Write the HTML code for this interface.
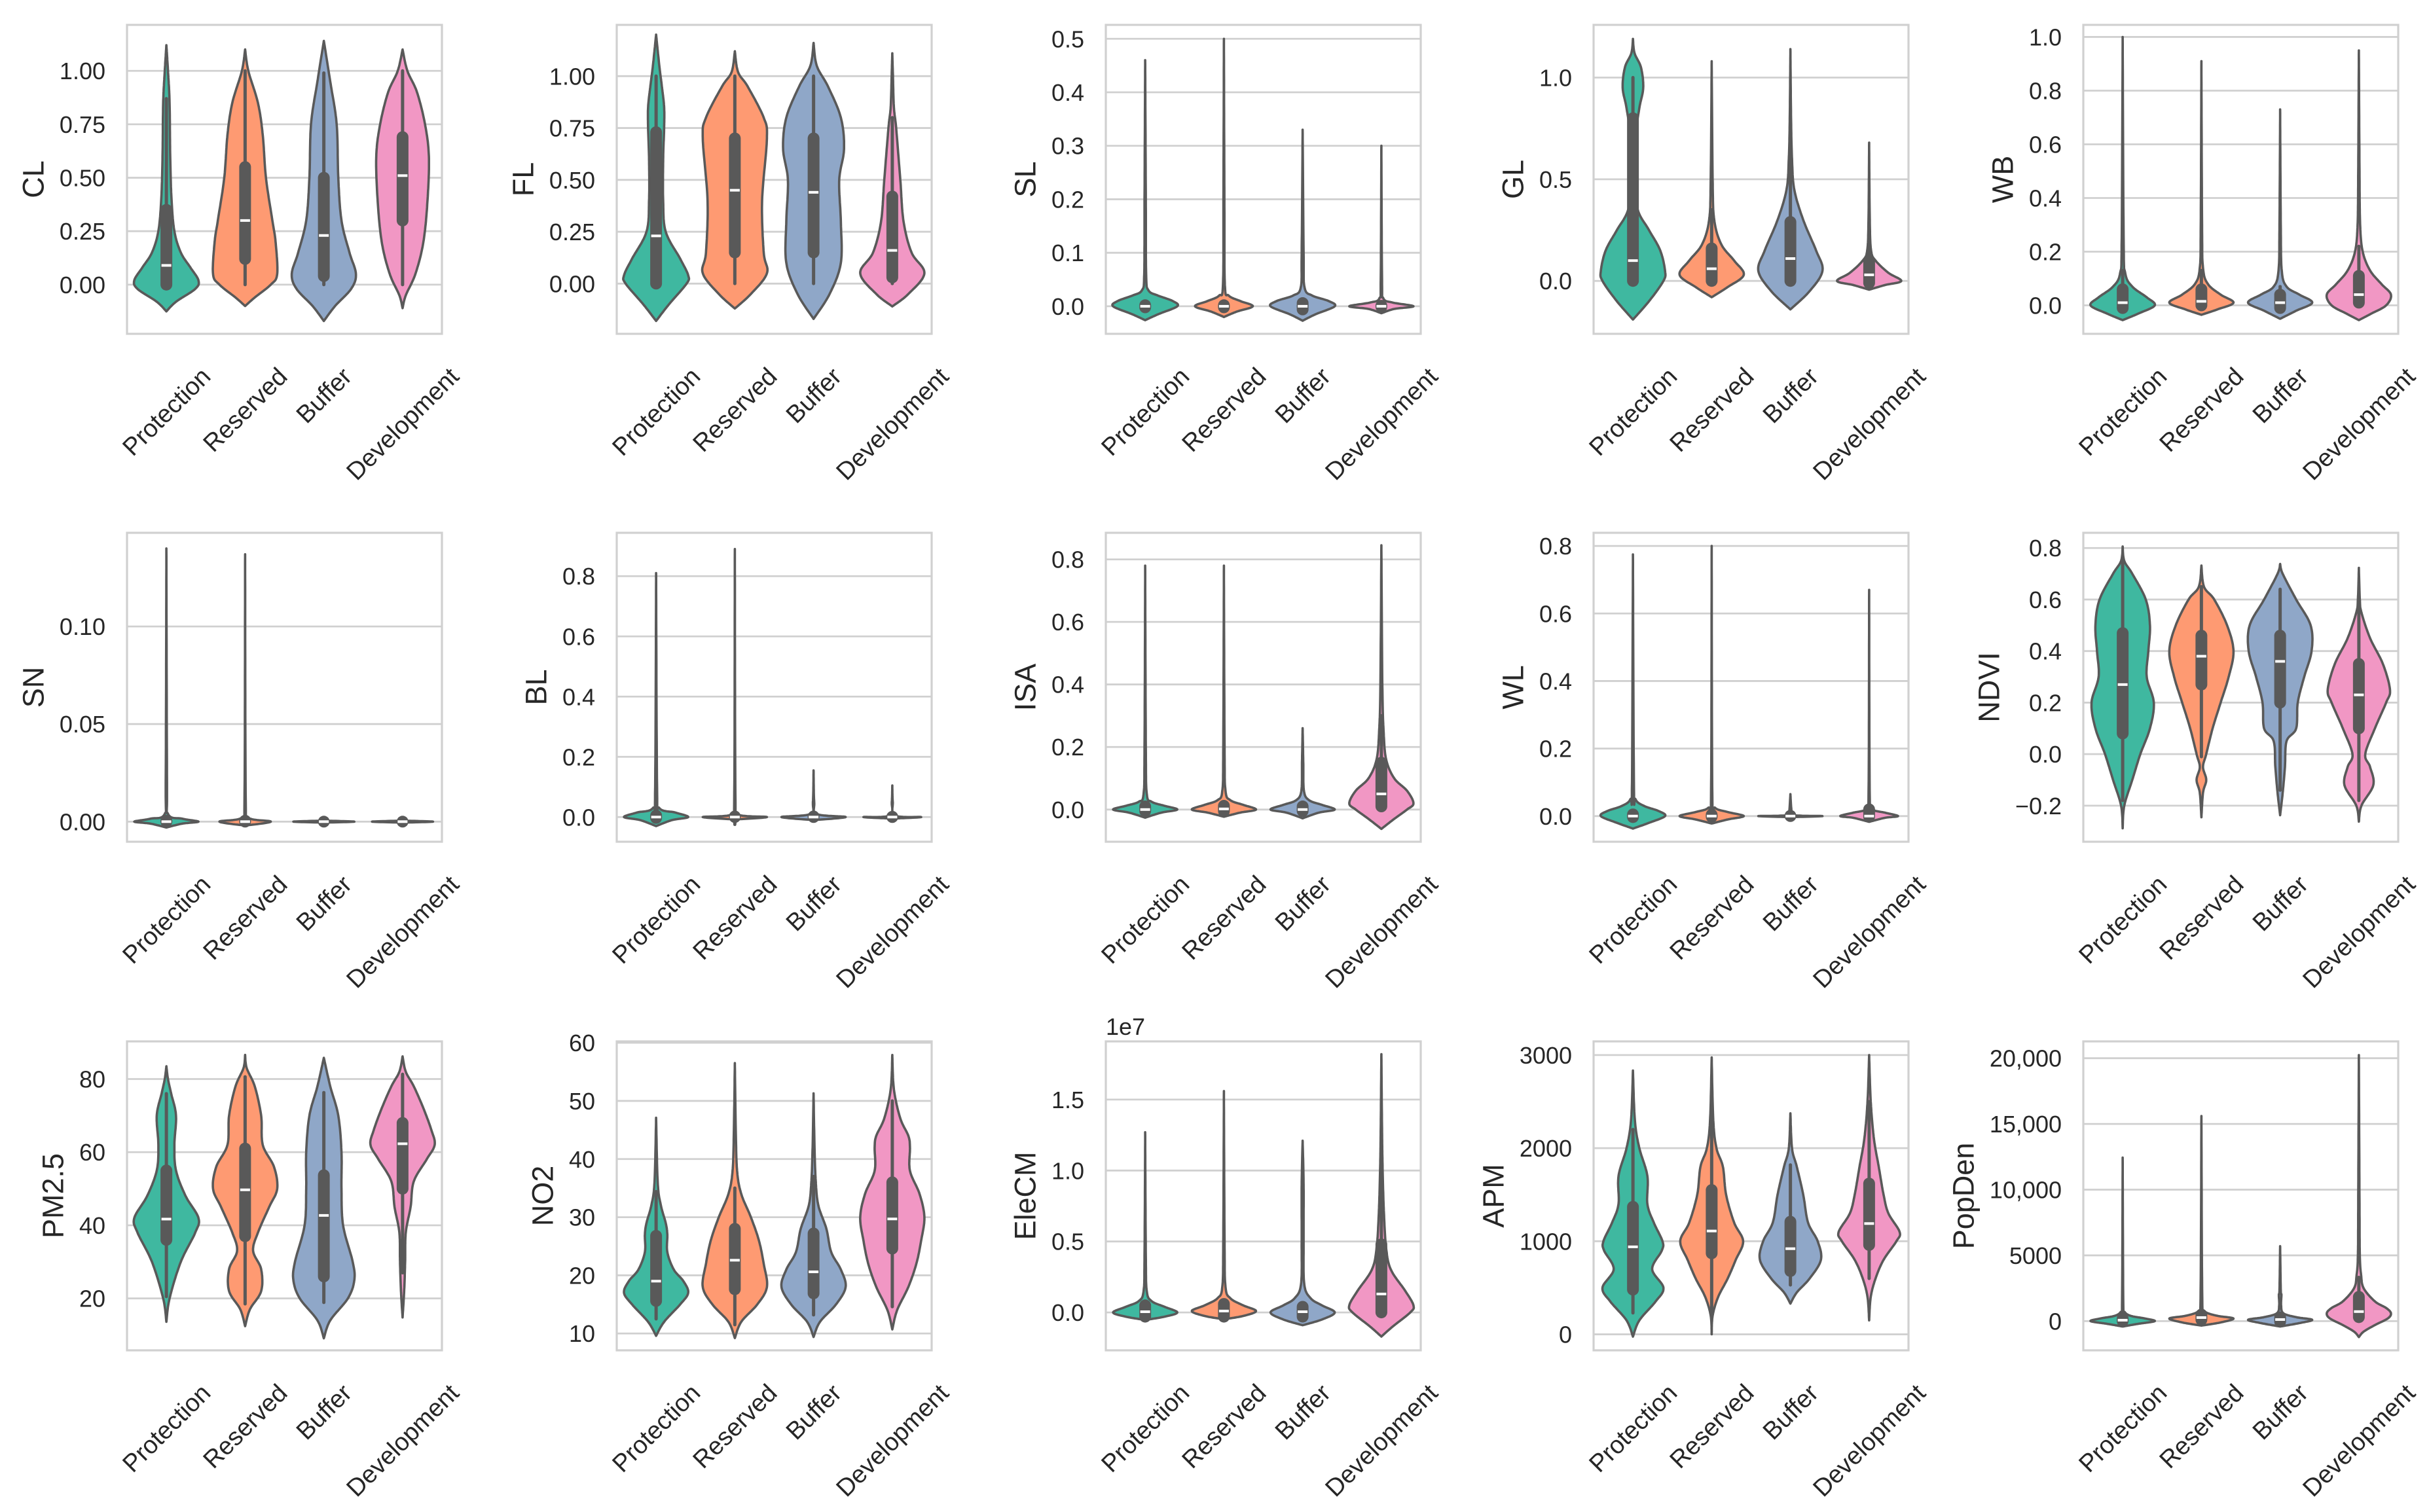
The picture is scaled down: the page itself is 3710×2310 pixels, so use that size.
<!DOCTYPE html>
<html><head><meta charset="utf-8"><title>Violin plots by zone</title>
<style>
html,body{margin:0;padding:0;background:#fff;}
svg{display:block;font-family:"Liberation Sans",Arial,sans-serif;}
</style></head>
<body>
<svg id="fig" xmlns="http://www.w3.org/2000/svg" width="3710" height="2310" viewBox="0 0 3710 2310">
<rect x="0" y="0" width="3710" height="2310" fill="#fff"/>
</svg>
<script>
const categories=["Protection","Reserved","Buffer","Development"];
const panelNames=["CL","FL","SL","GL","WB","SN","BL","ISA","WL","NDVI","PM2.5","NO2","EleCM","APM","PopDen"];
const yLimits=[[-0.23,1.215],[-0.242,1.247],[-0.0515,0.526],[-0.26,1.259],[-0.106,1.045],
[-0.0103,0.148],[-0.082,0.944],[-0.103,0.885],[-0.076,0.839],[-0.34,0.859],
[5.8,90.3],[7.1,60.24],[-0.267,1.91],[-172,3147],[-2222,21280]];
const yTicks=[[0,0.25,0.5,0.75,1],[0,0.25,0.5,0.75,1],[0,0.1,0.2,0.3,0.4,0.5],[0,0.5,1],[0,0.2,0.4,0.6,0.8,1],
[0,0.05,0.1],[0,0.2,0.4,0.6,0.8],[0,0.2,0.4,0.6,0.8],[0,0.2,0.4,0.6,0.8],[-0.2,0,0.2,0.4,0.6,0.8],
[20,40,60,80],[10,20,30,40,50,60],[0,0.5,1,1.5],[0,1000,2000,3000],[0,5000,10000,15000,20000]];
const tickLabels=[["0.00","0.25","0.50","0.75","1.00"],["0.00","0.25","0.50","0.75","1.00"],["0.0","0.1","0.2","0.3","0.4","0.5"],["0.0","0.5","1.0"],["0.0","0.2","0.4","0.6","0.8","1.0"],
["0.00","0.05","0.10"],["0.0","0.2","0.4","0.6","0.8"],["0.0","0.2","0.4","0.6","0.8"],["0.0","0.2","0.4","0.6","0.8"],["\u22120.2","0.0","0.2","0.4","0.6","0.8"],
["20","40","60","80"],["10","20","30","40","50","60"],["0.0","0.5","1.0","1.5"],["0","1000","2000","3000"],["0","5000","10,000","15,000","20,000"]];
const offsetTexts=["","","","","","","","","","","","","1e7","",""];
// density outlines: [value, relative half-width]
const violinKnots=[
[[[-0.125,0],[-0.08,0.3],[-0.02,0.9],[0.02,1],[0.08,0.75],[0.15,0.45],[0.25,0.25],[0.4,0.16],[0.6,0.12],[0.85,0.1],[1.0,0.05],[1.12,0]],
 [[-0.1,0],[-0.06,0.3],[0,0.8],[0.05,1],[0.2,0.95],[0.3,0.85],[0.5,0.65],[0.7,0.55],[0.85,0.4],[1.0,0.1],[1.1,0]],
 [[-0.17,0],[-0.1,0.35],[-0.02,0.85],[0.05,1],[0.15,0.8],[0.3,0.55],[0.5,0.45],[0.75,0.4],[0.95,0.2],[1.14,0]],
 [[-0.11,0],[-0.05,0.1],[0.05,0.4],[0.2,0.65],[0.4,0.78],[0.6,0.82],[0.75,0.7],[0.9,0.45],[1.0,0.15],[1.1,0]]],
[[[-0.18,0],[-0.1,0.4],[0,0.95],[0.04,1],[0.12,0.75],[0.25,0.3],[0.4,0.22],[0.6,0.22],[0.75,0.25],[0.85,0.25],[0.95,0.18],[1.05,0.1],[1.2,0]],
 [[-0.12,0],[-0.05,0.5],[0.05,1],[0.15,0.9],[0.4,0.85],[0.7,1],[0.8,0.9],[0.95,0.4],[1.02,0.1],[1.12,0]],
 [[-0.17,0],[-0.05,0.5],[0.1,0.85],[0.3,0.85],[0.5,0.8],[0.65,0.95],[0.8,0.85],[0.95,0.45],[1.05,0.1],[1.16,0]],
 [[-0.11,0],[-0.05,0.5],[0.05,1],[0.15,0.6],[0.3,0.35],[0.5,0.25],[0.75,0.12],[0.85,0.05],[1.0,0.02],[1.11,0]]],
[[[-0.026,0],[-0.015,0.4],[0,1],[0.01,0.85],[0.02,0.4],[0.03,0.1],[0.06,0.03],[0.2,0.02],[0.46,0]],
 [[-0.02,0],[-0.01,0.4],[0,0.9],[0.01,0.5],[0.02,0.15],[0.04,0.03],[0.2,0.015],[0.5,0]],
 [[-0.027,0],[-0.015,0.4],[0,1],[0.01,0.8],[0.02,0.3],[0.035,0.06],[0.1,0.03],[0.33,0]],
 [[-0.013,0],[-0.005,0.4],[0,1],[0.007,0.35],[0.015,0.06],[0.05,0.02],[0.3,0]]],
[[[-0.19,0],[-0.1,0.5],[0,0.95],[0.05,1],[0.15,0.85],[0.25,0.5],[0.35,0.15],[0.5,0.05],[0.7,0.07],[0.85,0.2],[0.95,0.32],[1.05,0.25],[1.12,0.05],[1.19,0]],
 [[-0.08,0],[-0.03,0.5],[0.03,1],[0.1,0.7],[0.18,0.3],[0.3,0.08],[0.5,0.03],[1.08,0]],
 [[-0.14,0],[-0.05,0.6],[0.05,1],[0.15,0.8],[0.3,0.4],[0.45,0.12],[0.6,0.05],[0.8,0.02],[1.14,0]],
 [[-0.043,0],[-0.02,0.5],[0,1],[0.04,0.6],[0.1,0.2],[0.15,0.06],[0.3,0.02],[0.68,0]]],
[[[-0.055,0],[-0.03,0.5],[0,1],[0.03,0.75],[0.07,0.3],[0.12,0.08],[0.25,0.03],[1.0,0]],
 [[-0.035,0],[-0.015,0.5],[0.01,1],[0.04,0.6],[0.08,0.2],[0.14,0.05],[0.3,0.02],[0.91,0]],
 [[-0.05,0],[-0.02,0.5],[0.01,1],[0.04,0.6],[0.07,0.2],[0.13,0.05],[0.3,0.02],[0.73,0]],
 [[-0.055,0],[-0.03,0.4],[0,0.85],[0.04,1],[0.08,0.7],[0.13,0.35],[0.2,0.12],[0.3,0.04],[0.5,0.02],[0.95,0]]],
[[[-0.003,0],[-0.001,0.5],[0,1],[0.0015,0.5],[0.004,0.05],[0.02,0.02],[0.14,0]],
 [[-0.002,0],[0,0.8],[0.002,0.1],[0.01,0.02],[0.137,0]],
 [[-0.0005,0],[0,0.95],[0.0005,0]],
 [[-0.0005,0],[0,0.95],[0.0005,0]]],
[[[-0.03,0],[-0.01,0.5],[0,1],[0.015,0.6],[0.03,0.1],[0.1,0.03],[0.81,0]],
 [[-0.008,0],[0,1],[0.008,0.1],[0.05,0.02],[0.89,0]],
 [[-0.01,0],[0,1],[0.01,0.1],[0.05,0.02],[0.155,0]],
 [[-0.005,0],[0,0.9],[0.005,0.08],[0.05,0.015],[0.105,0]]],
[[[-0.026,0],[-0.01,0.5],[0,1],[0.012,0.6],[0.025,0.2],[0.05,0.05],[0.2,0.02],[0.78,0]],
 [[-0.023,0],[-0.01,0.5],[0,1],[0.015,0.6],[0.03,0.2],[0.06,0.05],[0.2,0.02],[0.78,0]],
 [[-0.028,0],[-0.01,0.5],[0,1],[0.015,0.6],[0.03,0.2],[0.06,0.04],[0.15,0.02],[0.26,0]],
 [[-0.062,0],[-0.03,0.4],[0,0.8],[0.02,1],[0.06,0.8],[0.1,0.4],[0.16,0.15],[0.25,0.07],[0.4,0.03],[0.845,0]]],
[[[-0.037,0],[-0.02,0.5],[0,1],[0.015,0.8],[0.03,0.35],[0.05,0.08],[0.1,0.03],[0.775,0]],
 [[-0.022,0],[-0.01,0.5],[0,1],[0.012,0.5],[0.025,0.1],[0.06,0.02],[0.8,0]],
 [[-0.003,0],[0,1],[0.003,0.08],[0.02,0.03],[0.065,0]],
 [[-0.017,0],[-0.005,0.5],[0,0.9],[0.01,0.5],[0.02,0.1],[0.05,0.02],[0.67,0]]],
[[[-0.288,0],[-0.2,0.05],[-0.1,0.3],[0,0.55],[0.1,0.85],[0.2,0.97],[0.3,0.75],[0.4,0.8],[0.5,0.85],[0.6,0.72],[0.7,0.3],[0.75,0.05],[0.806,0]],
 [[-0.245,0],[-0.15,0.05],[-0.1,0.15],[-0.05,0.05],[0,0.15],[0.1,0.35],[0.2,0.6],[0.3,0.85],[0.4,1],[0.5,0.8],[0.6,0.4],[0.65,0.08],[0.732,0]],
 [[-0.237,0],[-0.15,0.08],[-0.05,0.15],[0.05,0.2],[0.1,0.5],[0.2,0.55],[0.3,0.75],[0.4,0.98],[0.5,0.95],[0.6,0.5],[0.7,0.08],[0.738,0]],
 [[-0.262,0],[-0.2,0.08],[-0.12,0.45],[-0.05,0.35],[0,0.2],[0.1,0.5],[0.2,0.85],[0.25,0.97],[0.35,0.75],[0.45,0.35],[0.55,0.08],[0.6,0.03],[0.723,0]]],
[[[13.6,0],[20,0.1],[30,0.45],[38,0.9],[42,1],[48,0.6],[55,0.3],[62,0.25],[70,0.3],[76,0.15],[80,0.05],[83.5,0]],
 [[12.4,0],[17,0.15],[22,0.5],[28,0.5],[33,0.25],[38,0.4],[45,0.75],[50,1],[56,0.9],[62,0.55],[70,0.5],[78,0.3],[83,0.05],[86.6,0]],
 [[9.1,0],[14,0.2],[20,0.75],[25,0.95],[30,0.9],[40,0.6],[50,0.55],[60,0.55],[70,0.45],[78,0.2],[85.8,0]],
 [[14.8,0],[22,0.05],[30,0.08],[38,0.1],[45,0.25],[52,0.35],[58,0.75],[62,1],[66,0.9],[72,0.65],[78,0.35],[82,0.1],[86.2,0]]],
[[[9.6,0],[12,0.25],[15,0.75],[17,1],[19,0.85],[21,0.55],[24,0.35],[27,0.35],[29,0.3],[32,0.15],[36,0.05],[47.1,0]],
 [[9.2,0],[12,0.2],[15,0.7],[18,1],[22,0.9],[26,0.75],[30,0.5],[34,0.2],[38,0.07],[45,0.03],[56.5,0]],
 [[9.4,0],[12,0.2],[15,0.7],[18,1],[21,0.85],[24,0.55],[28,0.4],[32,0.15],[36,0.07],[42,0.03],[51.3,0]],
 [[10.7,0],[14,0.15],[18,0.5],[22,0.75],[26,0.9],[30,1],[34,0.85],[38,0.55],[42,0.55],[44,0.5],[47,0.25],[52,0.05],[57.9,0]]],
[[[-0.053,0],[-0.03,0.6],[0,1],[0.04,0.6],[0.08,0.2],[0.15,0.05],[0.4,0.02],[1.27,0]],
 [[-0.048,0],[-0.025,0.6],[0.01,1],[0.05,0.6],[0.1,0.2],[0.18,0.05],[0.5,0.02],[1.56,0]],
 [[-0.09,0],[-0.05,0.6],[0,1],[0.05,0.6],[0.1,0.25],[0.2,0.05],[0.5,0.03],[0.9,0.03],[1.21,0]],
 [[-0.17,0],[-0.1,0.35],[0,0.9],[0.05,1],[0.15,0.75],[0.3,0.3],[0.45,0.15],[0.7,0.08],[1.0,0.04],[1.3,0.02],[1.82,0]]],
[[[-25,0],[150,0.2],[350,0.7],[500,0.95],[700,0.6],[900,0.9],[1000,0.92],[1200,0.65],[1400,0.45],[1700,0.45],[2000,0.2],[2300,0.06],[2834,0]],
 [[0,0],[200,0.03],[400,0.2],[600,0.5],[800,0.75],[1000,0.98],[1200,0.7],[1500,0.45],[1800,0.35],[2000,0.15],[2300,0.05],[2975,0]],
 [[330,0],[450,0.2],[600,0.6],[800,0.95],[1000,0.85],[1200,0.55],[1500,0.4],[1800,0.2],[2000,0.05],[2374,0]],
 [[150,0],[400,0.05],[600,0.2],[800,0.45],[1000,0.85],[1100,0.95],[1300,0.6],[1500,0.45],[1800,0.3],[2100,0.15],[2500,0.05],[3000,0]]],
[[[-410,0],[-200,0.5],[0,1],[200,0.7],[400,0.25],[700,0.06],[1200,0.02],[12440,0]],
 [[-340,0],[-100,0.6],[200,1],[400,0.5],[700,0.12],[1200,0.03],[15600,0]],
 [[-410,0],[-150,0.6],[100,1],[300,0.5],[600,0.1],[1200,0.03],[2000,0.04],[2400,0.02],[5700,0]],
 [[-1210,0],[-800,0.15],[-300,0.5],[200,0.9],[600,1],[1000,0.85],[1500,0.5],[2500,0.15],[3500,0.07],[5000,0.03],[9000,0.02],[20240,0]]]
];
// [whiskerLow, q1, median, q3, whiskerHigh]
const boxStats=[
[[0,0,0.09,0.35,0.87],[0,0.12,0.3,0.55,1.0],[0,0.04,0.23,0.5,0.99],[0,0.3,0.51,0.69,1.0]],
[[0,0,0.23,0.73,1.0],[0,0.15,0.45,0.7,1.0],[0,0.15,0.44,0.7,1.0],[0,0.03,0.16,0.42,0.8]],
[[0,-0.002,0,0.002,0.004],[0,-0.002,0,0.002,0.004],[-0.004,-0.006,0,0.006,0.008],[0,-0.001,0,0.001,0.002]],
[[0,0,0.1,0.8,1.0],[0,0,0.06,0.16,0.35],[0,0,0.11,0.29,0.65],[-0.01,-0.01,0.03,0.1,0.2]],
[[-0.01,-0.01,0.01,0.06,0.13],[0,0,0.015,0.06,0.13],[-0.01,-0.01,0.01,0.04,0.07],[0,0.01,0.04,0.11,0.22]],
[[0,0,0,0.0005,0.001],[0,0,0,0.0005,0.001],[0,0,0,0,0],[0,0,0,0,0]],
[[0,-0.003,0,0.005,0.01],[0,0,0,0.002,0.004],[0,0,0,0.002,0.004],[0,0,0,0.001,0.002]],
[[0,-0.005,0,0.01,0.02],[0,-0.005,0.002,0.012,0.025],[0,-0.005,0,0.01,0.02],[0,0.01,0.05,0.15,0.3]],
[[0,-0.003,0,0.005,0.01],[0,-0.002,0,0.004,0.008],[0,0,0,0.001,0.002],[0,-0.002,0,0.02,0.03]],
[[-0.18,0.08,0.27,0.47,0.75],[-0.01,0.27,0.38,0.46,0.65],[-0.14,0.2,0.36,0.46,0.64],[-0.18,0.1,0.23,0.35,0.6]],
[[20.5,36,41.7,55,76],[18.5,37,49.7,61,80.6],[18.9,26,42.7,53.7,76.3],[27,50,62.3,68,81.3]],
[[12.5,15.6,19,26.8,34.4],[11.5,17.6,22.6,28,35],[13.2,16.9,20.6,27.2,37],[14.6,24.6,29.7,36,50]],
[[-0.03,-0.03,0.005,0.05,0.06],[-0.03,-0.03,0.01,0.06,0.07],[-0.03,-0.03,0.005,0.04,0.05],[0,0,0.13,0.48,1.1]],
[[230,480,940,1370,2200],[180,870,1110,1550,2400],[530,680,920,1210,1820],[600,960,1190,1620,2500]],
[[-100,0,70,200,500],[0,100,270,500,1000],[-100,-40,120,280,500],[0,300,725,1850,3330]]
];
const violinColors=["#3fb8a0","#fe9a72","#8fa7c8","#f197c4"];

const NS="http://www.w3.org/2000/svg";
const svg=document.getElementById('fig');
const colLeft=[194,942,1689,2434,3182], rowTop=[38,814,1591], AW=481, AH=472, HALF=49;
function mk(tag,attrs,parent){const e=document.createElementNS(NS,tag);for(const k in attrs)e.setAttribute(k,attrs[k]);(parent||svg).appendChild(e);return e;}
function cr(p0,p1,p2,p3,t){const t2=t*t,t3=t2*t;return 0.5*((2*p1)+(-p0+p2)*t+(2*p0-5*p1+4*p2-p3)*t2+(-p0+3*p1-3*p2+p3)*t3);}

panelNames.forEach((name,pi)=>{
  const L=colLeft[pi%5], T=rowTop[Math.floor(pi/5)];
  const [ymin,ymax]=yLimits[pi];
  const ys=v=>T+(ymax-v)/(ymax-ymin)*AH;
  const xc=ci=>L+AW*(2*ci+1)/8;
  const g=mk('g',{});
  
  
  yTicks[pi].forEach((tv,ti)=>{
    const y=ys(tv);
    const gl=mk('line',{x1:L,x2:L+AW,y1:y,y2:y,stroke:'#d0d0d0','stroke-width':2.8},g);
    
    
  });
  categories.forEach((cat,ci)=>{
    const k=violinKnots[pi][ci];
    const pts=[];
    for(let i=0;i<k.length-1;i++){
      const a=k[Math.max(0,i-1)],b=k[i],c=k[i+1],d=k[Math.min(k.length-1,i+2)];
      for(let s=0;s<16;s++){const t=s/16;
        const v=cr(a[0],b[0],c[0],d[0],t);
        let w=cr(a[1],b[1],c[1],d[1],t); if(w<0)w=0;
        pts.push([v,w]);}
    }
    pts.push(k[k.length-1]);
    const cx=xc(ci);
    const right=pts.map(p=>[cx+p[1]*HALF,ys(p[0])]);
    const left=pts.slice().reverse().map(p=>[cx-p[1]*HALF,ys(p[0])]);
    const dstr='M'+right.concat(left).map(p=>p[0].toFixed(1)+','+p[1].toFixed(1)).join('L')+'Z';
    const vp=mk('path',{d:dstr,fill:violinColors[ci],stroke:'#595959','stroke-width':3.6,'stroke-linejoin':'round'},g);
    
    
    const b=boxStats[pi][ci];
    const wl=mk('line',{x1:cx,x2:cx,y1:ys(b[0]),y2:ys(b[4]),stroke:'#595959','stroke-width':5,'stroke-linecap':'round'},g);
    
    
    const bx=mk('line',{x1:cx,x2:cx,y1:ys(b[1]),y2:ys(b[3]),stroke:'#595959','stroke-width':18,'stroke-linecap':'round'},g);
    
    
    const md=mk('line',{x1:cx-7.5,x2:cx+7.5,y1:ys(b[2]),y2:ys(b[2]),stroke:'#ffffff','stroke-width':4},g);
    
    
    const tx=mk('text',{'font-size':38,fill:'#262626','text-anchor':'middle'},g);
    tx.textContent=cat;
    
    
    const w=tx.getComputedTextLength(), h=38;
    const cy=T+AH+45+(w+h)*0.3535;
    tx.setAttribute('x',cx);tx.setAttribute('y',cy+13);
    tx.setAttribute('transform','rotate(-45 '+cx+' '+cy+')');
  });
  const sp=mk('rect',{x:L,y:T,width:AW,height:AH,fill:'none',stroke:'#d0d0d0','stroke-width':3.2},g);
  
  
  let maxW=0;
  yTicks[pi].forEach((tv,ti)=>{
    const t=mk('text',{x:L-33,y:ys(tv)+13,'font-size':36,fill:'#262626','text-anchor':'end'},g);
    t.textContent=tickLabels[pi][ti];
    
    
    maxW=Math.max(maxW,t.getComputedTextLength());
  });
  const lx=L-33-maxW-40, ly=T+AH/2;
  const yl=mk('text',{x:lx,y:ly,'font-size':45,fill:'#262626','text-anchor':'middle','dominant-baseline':'central',transform:'rotate(-90 '+lx+' '+ly+')'},g);
  yl.textContent=name;
  
  
  if(offsetTexts[pi]){
    const ot=mk('text',{x:L,y:T-10,'font-size':36,fill:'#262626'},g);
    ot.textContent=offsetTexts[pi];
    
    
  }
});
</script>
</body></html>
